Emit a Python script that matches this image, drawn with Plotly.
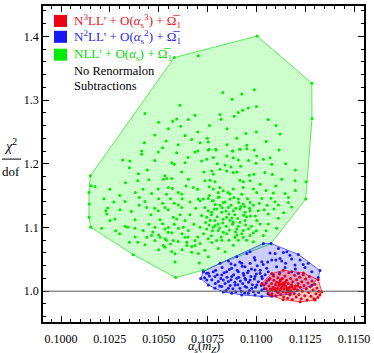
import plotly.graph_objects as go

# ---------------- data (alpha_s(mZ), chi^2/dof) ----------------
nll_points = [
    (0.10580, 1.3668), (0.11004, 1.4004), (0.11284, 1.3265), (0.11285, 1.2710), (0.11253, 1.1446),
    (0.11074, 1.0744), (0.10727, 1.0328), (0.10587, 1.0214), (0.10370, 1.0573), (0.10152, 1.1003),
    (0.10145, 1.1368), (0.10150, 1.1810),
    (0.10703, 1.3693), (0.10609, 1.2917), (0.10430, 1.2788), (0.10686, 1.2761), (0.10572, 1.2668),
    (0.10592, 1.2704), (0.10652, 1.2694), (0.10613, 1.2590), (0.10635, 1.2445), (0.10669, 1.2382),
    (0.10538, 1.2356), (0.10427, 1.2329), (0.10712, 1.2329),
    (0.10828, 1.3120), (0.10925, 1.3094), (0.10990, 1.3162), (0.10876, 1.3011), (0.10959, 1.2875),
    (0.10930, 1.2839), (0.10908, 1.2803), (0.10887, 1.2746), (0.10814, 1.2772), (0.10819, 1.2699),
    (0.11061, 1.2694), (0.10947, 1.2476), (0.11121, 1.2465), (0.10749, 1.2402), (0.10754, 1.2340),
    (0.10951, 1.2289), (0.10759, 1.2226), (0.10792, 1.2226), (0.10917, 1.2226), (0.11116, 1.2215),
    (0.10413, 1.2200), (0.10413, 1.2148), (0.10498, 1.2184), (0.10592, 1.2173), (0.10686, 1.2184),
    (0.10316, 1.2059), (0.10353, 1.2044), (0.10567, 1.2017), (0.10580, 1.1992), (0.10635, 1.2017),
    (0.10350, 1.1939), (0.10442, 1.1903), (0.10618, 1.1872), (0.10396, 1.1845), (0.10532, 1.1810),
    (0.10541, 1.1767), (0.10524, 1.1758), (0.10567, 1.1767), (0.10652, 1.1758), (0.10174, 1.1643),
    (0.10154, 1.1654), (0.10393, 1.1732), (0.10498, 1.1602), (0.10549, 1.1627), (0.10570, 1.1611),
    (0.10601, 1.1549), (0.10618, 1.1524), (0.10677, 1.1627), (0.10464, 1.1533), (0.10143, 1.1549),
    (0.10401, 1.1471), (0.10328, 1.1409), (0.10430, 1.1409), (0.10439, 1.1315), (0.10532, 1.1315),
    (0.10549, 1.1279), (0.10601, 1.1353), (0.10618, 1.1315), (0.10703, 1.1446), (0.10498, 1.1264),
    (0.10302, 1.1279), (0.10239, 1.1306), (0.10229, 1.1264), (0.10234, 1.1212), (0.10143, 1.1159),
    (0.10276, 1.1134), (0.10251, 1.1108), (0.10379, 1.1123), (0.10507, 1.1123), (0.10575, 1.1159),
    (0.10592, 1.1134), (0.10635, 1.1108), (0.10208, 1.0987), (0.10328, 1.1019), (0.10342, 1.1003),
    (0.10379, 1.0987), (0.10421, 1.0952), (0.10481, 1.1003), (0.10532, 1.0978), (0.10549, 1.0925),
    (0.10567, 1.0916), (0.10601, 1.0987), (0.10626, 1.1003), (0.10652, 1.0952), (0.10464, 1.0874),
    (0.10507, 1.0847), (0.10481, 1.0796), (0.10439, 1.0847), (0.10532, 1.0822), (0.10575, 1.0796),
    (0.10635, 1.0847), (0.10644, 1.0769), (0.10686, 1.0796), (0.10350, 1.0769), (0.10393, 1.0769),
    (0.10430, 1.0729), (0.10524, 1.0718), (0.10532, 1.0691), (0.10567, 1.0624), (0.10584, 1.0588),
    (0.10644, 1.0718), (0.10686, 1.0718), (0.10584, 1.0457), (0.10669, 1.0613),
    (0.10754, 1.2215), (0.10794, 1.2215), (0.10877, 1.2200), (0.10916, 1.2226), (0.10951, 1.2235),
    (0.10990, 1.2215), (0.10720, 1.2044), (0.10746, 1.2070), (0.10848, 1.2122), (0.10882, 1.2095),
    (0.10908, 1.2059), (0.11002, 1.2122), (0.10998, 1.2008), (0.11036, 1.2070), (0.11070, 1.2095),
    (0.11079, 1.1992), (0.10732, 1.1872), (0.10772, 1.1888), (0.10780, 1.1836), (0.10814, 1.1914),
    (0.10848, 1.1888), (0.10882, 1.1861), (0.10900, 1.1872), (0.10964, 1.1821), (0.10988, 1.1836),
    (0.11044, 1.1861), (0.11082, 1.1830), (0.11130, 1.1758), (0.11198, 1.1732), (0.11254, 1.1716),
    (0.10737, 1.1732), (0.10763, 1.1743), (0.10788, 1.1716), (0.10916, 1.1743), (0.10933, 1.1716),
    (0.10968, 1.1732), (0.10759, 1.1638), (0.10780, 1.1602), (0.10814, 1.1627), (0.10831, 1.1576),
    (0.10805, 1.1549), (0.10882, 1.1602), (0.10865, 1.1524), (0.10933, 1.1627), (0.10985, 1.1602),
    (0.11002, 1.1549), (0.11087, 1.1540), (0.11147, 1.1533), (0.11164, 1.1471), (0.10729, 1.1446),
    (0.10712, 1.1420), (0.10754, 1.1455), (0.10780, 1.1420), (0.10805, 1.1471), (0.10831, 1.1393),
    (0.10865, 1.1446), (0.10908, 1.1446), (0.10933, 1.1368), (0.10968, 1.1393), (0.11028, 1.1455),
    (0.11096, 1.1404), (0.11113, 1.1353), (0.11164, 1.1393), (0.10737, 1.1315), (0.10754, 1.1264),
    (0.10772, 1.1237), (0.10797, 1.1290), (0.10823, 1.1237), (0.10857, 1.1315), (0.10882, 1.1264),
    (0.10916, 1.1290), (0.10942, 1.1237), (0.10968, 1.1264), (0.11010, 1.1264), (0.11061, 1.1212),
    (0.10720, 1.1186), (0.10746, 1.1159), (0.10763, 1.1108), (0.10788, 1.1108), (0.10805, 1.1056),
    (0.10848, 1.1159), (0.10865, 1.1108), (0.10882, 1.1081), (0.10916, 1.1081), (0.10942, 1.1108),
    (0.11002, 1.1108), (0.11019, 1.1056), (0.11061, 1.1056), (0.11113, 1.1143), (0.10712, 1.1003),
    (0.10746, 1.0978), (0.10780, 1.1003), (0.10805, 1.0952), (0.10831, 1.0925), (0.10848, 1.0900),
    (0.10900, 1.0978), (0.10933, 1.0952), (0.10968, 1.0874), (0.10985, 1.0916), (0.10891, 1.0847),
    (0.10933, 1.0847), (0.10754, 1.0822), (0.10797, 1.0796), (0.11036, 1.0874), (0.11104, 1.0987),
    (0.10712, 1.0749), (0.10772, 1.0764), (0.10823, 1.0800), (0.10737, 1.0644), (0.10805, 1.0671),
    (0.10840, 1.0619), (0.10882, 1.0722), (0.10908, 1.0800), (0.10985, 1.0775), (0.10754, 1.0541),
    (0.10703, 1.0593), (0.10708, 1.0441),
    (0.10760, 1.1500), (0.10775, 1.1420), (0.10790, 1.1360), (0.10810, 1.1480), (0.10825, 1.1310),
    (0.10840, 1.1400), (0.10855, 1.1550), (0.10870, 1.1350), (0.10885, 1.1470), (0.10895, 1.1300),
    (0.10910, 1.1390), (0.10925, 1.1520), (0.10940, 1.1330), (0.10955, 1.1450), (0.10970, 1.1180),
    (0.10985, 1.1350), (0.10770, 1.1200), (0.10785, 1.1290), (0.10800, 1.1170), (0.10815, 1.1350),
    (0.10830, 1.1130), (0.10845, 1.1260), (0.10860, 1.1210), (0.10875, 1.1150), (0.10890, 1.1200),
    (0.10905, 1.1140), (0.10920, 1.1330), (0.10935, 1.1190), (0.10950, 1.1170), (0.10965, 1.1300),
    (0.10740, 1.1080), (0.10758, 1.1040), (0.10775, 1.0950), (0.10790, 1.1030), (0.10812, 1.0990),
    (0.10828, 1.1070), (0.10846, 1.1020), (0.10862, 1.0960), (0.10878, 1.1050), (0.10894, 1.0930),
    (0.10908, 1.1020), (0.10925, 1.0900), (0.10945, 1.1040), (0.10960, 1.0980), (0.10975, 1.1020),
    (0.10995, 1.1180), (0.11015, 1.1380), (0.11040, 1.1280), (0.11055, 1.1350), (0.11075, 1.1460),
    (0.11090, 1.1290), (0.11020, 1.1680), (0.11050, 1.1580), (0.11100, 1.1650), (0.11140, 1.1230),
    (0.11180, 1.1320), (0.11200, 1.1580), (0.10700, 1.1600), (0.10690, 1.1300), (0.10680, 1.1050),
    (0.10660, 1.1200), (0.10660, 1.1400), (0.10640, 1.1650), (0.10620, 1.1450), (0.10580, 1.1380),
    (0.10560, 1.1450), (0.10540, 1.1520), (0.10520, 1.1380), (0.10500, 1.1450), (0.10480, 1.1300),
    (0.10460, 1.1200), (0.10450, 1.1050), (0.10470, 1.0930), (0.10500, 1.0880), (0.10520, 1.1060),
    (0.10550, 1.1000), (0.10580, 1.1050), (0.10610, 1.1200), (0.10620, 1.0900), (0.10650, 1.0850),
    (0.10670, 1.0700), (0.10600, 1.0780), (0.10560, 1.0740), (0.10540, 1.0800), (0.10500, 1.0650),
    (0.10620, 1.0650), (0.10700, 1.0850), (0.10730, 1.0900), (0.10770, 1.0870), (0.10820, 1.0850),
    (0.10860, 1.0800), (0.10900, 1.0880), (0.10950, 1.0800), (0.11000, 1.0950), (0.11050, 1.0950),
    (0.10800, 1.2000), (0.10840, 1.1980), (0.10870, 1.1950), (0.10920, 1.1960), (0.10960, 1.2050),
    (0.10780, 1.2100), (0.10850, 1.2300), (0.10700, 1.2200), (0.10650, 1.2100), (0.10600, 1.2300),
    (0.10520, 1.2250), (0.10480, 1.2050), (0.10450, 1.1750), (0.10420, 1.1600), (0.10380, 1.1550),
    (0.10330, 1.1700), (0.10300, 1.1500), (0.10270, 1.1400), (0.10250, 1.1600), (0.10220, 1.1450),
    (0.10300, 1.0900), (0.10380, 1.0850), (0.10280, 1.0950), (0.10400, 1.1350), (0.10360, 1.1250),
    (0.10700, 1.2500), (0.10760, 1.2600), (0.10850, 1.2550), (0.10900, 1.2400), (0.11000, 1.2500),
    (0.11050, 1.2350), (0.11150, 1.2000), (0.11200, 1.1900), (0.10550, 1.2550), (0.10500, 1.2650),
    (0.10480, 1.2450), (0.11000, 1.2900), (0.10880, 1.2200), (0.11100, 1.2600),
]

n2ll_points = [
    (0.10814, 1.0437), (0.10857, 1.0473), (0.10900, 1.0541), (0.10951, 1.0593), (0.10968, 1.0619),
    (0.11036, 1.0749), (0.11075, 1.0749), (0.10729, 1.0307), (0.10715, 1.0198), (0.10754, 1.0281),
    (0.10780, 1.0307), (0.10788, 1.0229), (0.10823, 1.0254), (0.10848, 1.0307), (0.10874, 1.0359),
    (0.10891, 1.0410), (0.10925, 1.0437), (0.10942, 1.0385), (0.10968, 1.0437), (0.10993, 1.0488),
    (0.11028, 1.0463), (0.11053, 1.0359), (0.10908, 1.0307), (0.10933, 1.0281), (0.10959, 1.0317),
    (0.10993, 1.0332), (0.11019, 1.0281), (0.10746, 1.0176), (0.10805, 1.0151), (0.10831, 1.0176),
    (0.10857, 1.0151), (0.10874, 1.0229), (0.10900, 1.0203), (0.10942, 1.0203), (0.10968, 1.0176),
    (0.10993, 1.0229), (0.11028, 1.0229), (0.10788, 1.0047), (0.10823, 1.0073), (0.10857, 1.0047),
    (0.10891, 1.0098), (0.10916, 1.0047), (0.10942, 1.0073), (0.10977, 1.0047), (0.11002, 1.0098),
    (0.11028, 1.0020), (0.10754, 1.0098), (0.10874, 0.9969), (0.10925, 0.9942), (0.10959, 0.9969),
    (0.10993, 0.9942), (0.11028, 0.9917), (0.10831, 0.9989), (0.11113, 1.0671), (0.11096, 1.0593),
    (0.11138, 1.0608), (0.11156, 1.0619), (0.11172, 1.0566), (0.11215, 1.0577), (0.11266, 1.0437),
    (0.11326, 1.0323), (0.11317, 1.0214), (0.11121, 1.0515), (0.11130, 1.0473), (0.11181, 1.0504),
    (0.11224, 1.0488), (0.11079, 1.0488), (0.11198, 1.0410), (0.11249, 1.0370), (0.11284, 1.0307),
    (0.11104, 1.0385), (0.11147, 1.0370), (0.11061, 1.0307), (0.11087, 1.0254), (0.11181, 1.0307),
    (0.11215, 1.0281), (0.11285, 1.0094), (0.11172, 0.9953), (0.11080, 0.9922),
    (0.10760, 1.0240), (0.10772, 1.0180), (0.10790, 1.0120), (0.10800, 1.0260), (0.10812, 1.0080),
    (0.10818, 1.0200), (0.10835, 1.0290), (0.10840, 1.0120), (0.10845, 1.0010), (0.10850, 1.0220),
    (0.10862, 1.0340), (0.10866, 1.0090), (0.10870, 1.0180), (0.10880, 1.0040), (0.10884, 1.0260),
    (0.10890, 1.0140), (0.10895, 0.9990), (0.10902, 1.0330), (0.10905, 1.0100), (0.10910, 1.0220),
    (0.10918, 1.0160), (0.10922, 1.0000), (0.10928, 1.0390), (0.10930, 1.0120), (0.10936, 1.0250),
    (0.10940, 0.9970), (0.10945, 1.0180), (0.10950, 1.0060), (0.10955, 1.0290), (0.10960, 1.0140),
    (0.10964, 1.0010), (0.10972, 1.0230), (0.10975, 1.0350), (0.10980, 1.0100), (0.10985, 0.9990),
    (0.10990, 1.0190), (0.10996, 1.0060), (0.11000, 1.0270), (0.11005, 1.0400), (0.11010, 1.0150),
    (0.11012, 0.9980), (0.11020, 1.0330), (0.11025, 1.0090), (0.11030, 1.0200), (0.11035, 1.0420),
    (0.11040, 1.0040), (0.11045, 1.0260), (0.11050, 1.0130), (0.11058, 1.0460), (0.11060, 0.9960),
    (0.11065, 1.0180), (0.10825, 1.0370), (0.10792, 1.0330), (0.10745, 1.0280), (0.10735, 1.0210),
    (0.10870, 1.0430), (0.10915, 1.0460), (0.10990, 1.0530), (0.11070, 1.0600), (0.11100, 1.0490),
    (0.11150, 1.0440), (0.11200, 1.0350), (0.11240, 1.0420), (0.11120, 1.0290),
]

n3ll_points = [
    (0.11028, 1.0120), (0.11079, 1.0276), (0.11138, 1.0328), (0.11241, 1.0286), (0.11317, 1.0179),
    (0.11335, 0.9989), (0.11301, 0.9860), (0.11224, 0.9833), (0.11137, 0.9867), (0.11070, 0.9938),
    (0.11040, 1.0100), (0.11050, 1.0040), (0.11055, 1.0160), (0.11060, 0.9990), (0.11065, 1.0080),
    (0.11070, 1.0200), (0.11072, 1.0030), (0.11078, 1.0120), (0.11080, 0.9960), (0.11085, 1.0060),
    (0.11088, 1.0240), (0.11090, 1.0170), (0.11095, 1.0010), (0.11098, 1.0100), (0.11100, 0.9930),
    (0.11104, 1.0140), (0.11108, 1.0050), (0.11110, 1.0210), (0.11112, 0.9980), (0.11115, 1.0090),
    (0.11118, 1.0270), (0.11120, 1.0020), (0.11122, 1.0160), (0.11125, 0.9950), (0.11128, 1.0110),
    (0.11130, 1.0060), (0.11133, 1.0200), (0.11136, 0.9990), (0.11138, 1.0130), (0.11140, 0.9910),
    (0.11143, 1.0040), (0.11146, 1.0240), (0.11150, 1.0080), (0.11152, 0.9970), (0.11155, 1.0170),
    (0.11158, 1.0020), (0.11160, 0.9890), (0.11163, 1.0120), (0.11166, 1.0290), (0.11170, 1.0060),
    (0.11172, 0.9940), (0.11175, 1.0200), (0.11178, 1.0000), (0.11180, 1.0100), (0.11184, 0.9870),
    (0.11186, 1.0150), (0.11190, 1.0040), (0.11194, 0.9960), (0.11196, 1.0250), (0.11200, 1.0080),
    (0.11204, 0.9910), (0.11206, 1.0180), (0.11210, 1.0020), (0.11214, 1.0120), (0.11218, 0.9950),
    (0.11222, 1.0220), (0.11225, 1.0060), (0.11230, 0.9880), (0.11233, 1.0150), (0.11236, 1.0000),
    (0.11240, 1.0260), (0.11244, 1.0090), (0.11248, 0.9930), (0.11252, 1.0190), (0.11256, 1.0040),
    (0.11260, 0.9860), (0.11264, 1.0130), (0.11268, 0.9980), (0.11272, 1.0230), (0.11276, 1.0070),
    (0.11280, 0.9920), (0.11285, 1.0160), (0.11290, 1.0020), (0.11295, 0.9880), (0.11300, 1.0110),
    (0.11305, 0.9960), (0.11310, 1.0050), (0.11315, 0.9900), (0.11320, 1.0000), (0.11325, 0.9940),
    (0.11092, 1.0050), (0.11102, 1.0030), (0.11116, 1.0130), (0.11126, 1.0040), (0.11142, 1.0100),
    (0.11156, 1.0050), (0.11168, 1.0030), (0.11182, 1.0070), (0.11124, 1.0180), (0.11148, 1.0140),
    (0.11082, 1.0030), (0.11106, 0.9990), (0.11134, 1.0080), (0.11164, 0.9990), (0.11198, 1.0040),
    (0.11212, 1.0080),
]

x_ticks = [0.1000, 0.1025, 0.1050, 0.1075, 0.1100, 0.1125, 0.1150]
x_tick_labels = ["0.1000", "0.1025", "0.1050", "0.1075", "0.1100", "0.1125", "0.1150"]
y_ticks = [1.0, 1.1, 1.2, 1.3, 1.4]
y_tick_labels = ["1.0", "1.1", "1.2", "1.3", "1.4"]

series_labels = [
    "N<sup>3</sup>LL' + O(<i>α</i><sub>s</sub><sup>3</sup>) + Ω\u0305<sub>1</sub>",
    "N<sup>2</sup>LL' + O(<i>α</i><sub>s</sub><sup>2</sup>) + Ω\u0305<sub>1</sub>",
    "NLL' + O(<i>α</i><sub>s</sub>) + Ω\u0305<sub>1</sub>",
]


def convex_hull(points):
    pts = sorted(set(points))
    if len(pts) < 3:
        return pts

    def cross(o, a, b):
        return (a[0] - o[0]) * (b[1] - o[1]) - (a[1] - o[1]) * (b[0] - o[0])

    lower, upper = [], []
    for p in pts:
        while len(lower) >= 2 and cross(lower[-2], lower[-1], p) <= 0:
            lower.pop()
        lower.append(p)
    for p in reversed(pts):
        while len(upper) >= 2 and cross(upper[-2], upper[-1], p) <= 0:
            upper.pop()
        upper.append(p)
    return lower[:-1] + upper[:-1]


SERIF = "Liberation Serif, Times New Roman, serif"
styles = [
    (nll_points, "rgb(0,235,0)", "rgba(0,255,0,0.20)", "rgba(0,220,0,0.6)"),
    (n2ll_points, "rgb(25,25,245)", "rgba(0,0,255,0.20)", "rgba(40,40,240,0.7)"),
    (n3ll_points, "rgb(240,0,20)", "rgba(255,0,0,0.20)", "rgba(240,0,20,0.7)"),
]

fig = go.Figure()
for pts, pcol, fcol, lcol in styles:
    hull = convex_hull(pts)
    hx = [p[0] for p in hull] + [hull[0][0]]
    hy = [p[1] for p in hull] + [hull[0][1]]
    fig.add_trace(go.Scatter(x=hx, y=hy, mode="lines", fill="toself", fillcolor=fcol,
                             line=dict(color=lcol, width=1), hoverinfo="skip", showlegend=False))
    fig.add_trace(go.Scatter(x=[p[0] for p in pts], y=[p[1] for p in pts], mode="markers",
                             marker=dict(color=pcol, size=3, line=dict(width=0)),
                             showlegend=False))

# horizontal reference line at chi^2/dof = 1
fig.add_shape(type="line", xref="paper", x0=0, x1=1, yref="y", y0=1.0, y1=1.0,
              line=dict(color="rgb(90,90,90)", width=1), layer="above")

axis_common = dict(
    showgrid=False, zeroline=False, showline=True, linecolor="black", linewidth=1.5,
    mirror="allticks", ticks="inside", ticklen=6, tickwidth=1.2, tickcolor="black",
    tickfont=dict(family=SERIF, size=12, color="black"),
)
fig.update_xaxes(range=[0.099078, 0.115512], tickvals=x_ticks, ticktext=x_tick_labels,
                 ticklabelstandoff=5,
                 minor=dict(ticks="inside", ticklen=3, tickwidth=1, tickcolor="black", dtick=0.0005,
                            showgrid=False),
                 **axis_common)
fig.update_yaxes(range=[0.95166, 1.44756], tickvals=y_ticks, ticktext=y_tick_labels,
                 minor=dict(ticks="inside", ticklen=3, tickwidth=1, tickcolor="black", dtick=0.02,
                            showgrid=False),
                 **axis_common)

# legend (squares + coloured labels)
leg_colors = ["rgb(240,0,20)", "rgb(25,25,245)", "rgb(0,235,0)"]
text_colors = ["rgb(235,20,40)", "rgb(40,40,240)", "rgb(0,220,0)"]
row_y = [0.9528, 0.9025, 0.8459]
for lab, sc, tc, ry in zip(series_labels, leg_colors, text_colors, row_y):
    fig.add_shape(type="rect", xref="paper", yref="paper", x0=0.0343, x1=0.0748,
                  y0=ry - 0.019, y1=ry + 0.019, fillcolor=sc, line=dict(width=0), layer="above")
    fig.add_annotation(xref="paper", yref="paper", x=0.0903, y=ry, xanchor="left", yanchor="middle",
                       text=lab, showarrow=False, font=dict(family=SERIF, size=13, color=tc))
fig.add_annotation(xref="paper", yref="paper", x=0.0903, y=0.795, xanchor="left", yanchor="middle",
                   text="No Renormalon", showarrow=False, font=dict(family=SERIF, size=12.5, color="black"))
fig.add_annotation(xref="paper", yref="paper", x=0.0903, y=0.748, xanchor="left", yanchor="middle",
                   text="Subtractions", showarrow=False, font=dict(family=SERIF, size=12.5, color="black"))

# axis titles
fig.add_annotation(xref="paper", yref="paper", x=0.5, y=-0.049, xanchor="center", yanchor="top",
                   text="<i>α</i><sub><i>s</i></sub>(<i>m</i><sub><i>Z</i></sub>)", showarrow=False,
                   font=dict(family=SERIF, size=12.5, color="black"))
fig.add_annotation(xref="paper", yref="paper", x=-0.10, y=0.525, xanchor="center", yanchor="bottom",
                   text="<i>χ</i><sup>2</sup>", showarrow=False,
                   font=dict(family=SERIF, size=14, color="black"))
fig.add_annotation(xref="paper", yref="paper", x=-0.10, y=0.505, xanchor="center", yanchor="top",
                   text="dof", showarrow=False, font=dict(family=SERIF, size=13, color="black"))
fig.add_shape(type="line", xref="paper", yref="paper", x0=-0.128, x1=-0.068, y0=0.5155, y1=0.5155,
              line=dict(color="black", width=1))

fig.update_layout(
    width=374, height=353,
    margin=dict(l=43, r=10, t=4, b=31),
    paper_bgcolor="white", plot_bgcolor="white",
    showlegend=False,
)

fig.write_html(
    "out.html",
    config={"displayModeBar": False},
    post_script="document.documentElement.style.overflow='hidden';"
                "document.body.style.margin='0';document.body.style.overflow='hidden';",
)
